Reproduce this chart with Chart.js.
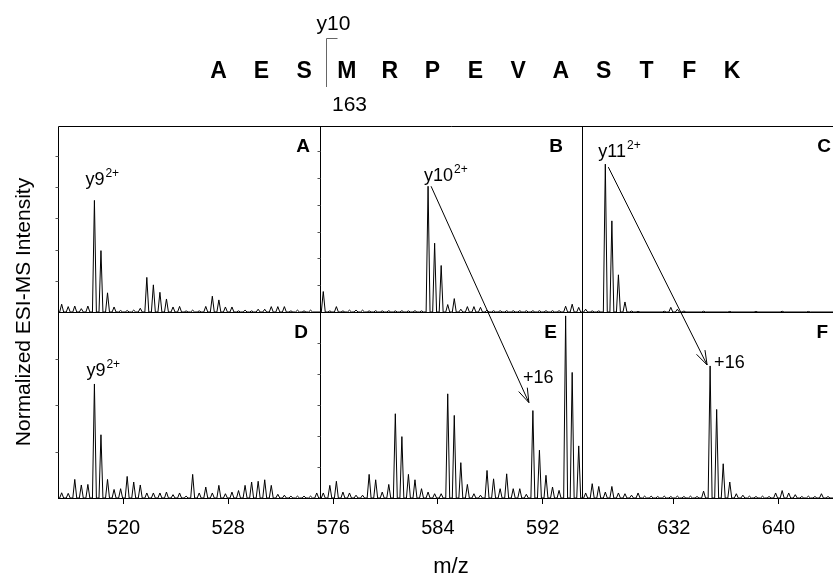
<!DOCTYPE html>
<html>
<head>
<meta charset="utf-8">
<title>ESI-MS spectra</title>
<script src="https://cdn.jsdelivr.net/npm/chart.js@4.4.1/dist/chart.umd.min.js"></script>
<style>
  html, body { margin: 0; padding: 0; background: #fff; overflow: hidden; }
  canvas { display: block; }
</style>
</head>
<body>
<canvas id="msChart" width="845" height="580"></canvas>
<script>
// peptide sequence shown above the panels
const sequence = ["A", "E", "S", "M", "R", "P", "E", "V", "A", "S", "T", "F", "K"];
const cleavageIndex = 3; // cut before M
const cleavageTop = "y10";
const cleavageBottom = "163";

// m/z windows and tick labels of the three columns
const rangeA = [515, 535];
const rangeB = [575, 595];
const rangeC = [625, 645];
const ticksA = [520, 528];
const ticksB = [576, 584, 592];
const ticksC = [632, 640];

// peak lists [m/z, normalized intensity], top row
const peaksA = [
  [515.28, 4.2], [515.78, 2.9], [516.28, 3.2], [516.78, 1.8], [517.28, 3.2], [517.78, 60],
  [518.28, 33], [518.78, 10.3], [519.28, 2.7], [519.78, 0.8], [520.28, 0.8], [520.78, 1],
  [521.28, 2], [521.78, 18.6], [522.28, 14.6], [522.78, 10.6], [523.28, 7], [523.78, 2.7],
  [524.28, 3], [524.78, 0.6], [525.28, 1], [525.78, 0.6], [526.28, 3], [526.78, 8.5],
  [527.28, 6.5], [527.78, 2.7], [528.28, 2.7], [528.78, 0.6], [529.28, 1], [529.78, 0.6],
  [530.28, 1.5], [530.78, 1.5], [531.28, 2.9], [531.78, 2.9], [532.28, 2.9], [532.78, 0.6],
  [533.28, 1], [533.78, 0.6], [534.28, 1]
];
const peaksB = [
  [575.25, 11], [575.75, 0.6], [576.25, 2.9], [576.75, 0.6], [577.25, 1], [577.75, 1],
  [578.25, 1], [578.75, 0.6], [579.25, 0.7], [579.75, 0.6], [580.25, 0.7], [580.75, 0.6],
  [581.25, 0.7], [581.75, 0.6], [582.25, 0.7], [582.75, 0.6], [583.25, 67.6], [583.75, 37],
  [584.25, 25], [584.75, 4], [585.25, 7.2], [585.75, 1.5], [586.25, 2.9], [586.75, 2.9],
  [587.25, 2.5], [587.75, 1], [588.25, 0.7], [588.75, 0.7], [589.25, 0.7], [589.75, 0.7],
  [590.25, 0.7], [590.75, 0.7], [591.25, 0.7], [591.75, 0.7], [592.25, 0.7], [592.75, 0.7],
  [593.25, 0.7], [593.75, 3.1], [594.25, 4.2], [594.75, 2.5]
];
const peaksC = [
  [625.28, 1.5], [625.78, 0.6], [626.28, 0.6], [626.78, 79.5], [627.28, 49], [627.78, 20],
  [628.28, 5.4], [628.78, 0.5], [629.28, 0.3], [631.28, 0.4], [631.78, 2.5], [632.28, 1.5],
  [632.78, 0.5], [634.28, 0.4], [636.28, 0.3], [638.28, 0.3], [640.28, 0.4], [642.28, 0.3]
];

// bottom row
const peaksD = [
  [515.28, 2.8], [515.78, 2.5], [516.28, 10], [516.78, 7], [517.28, 7.3], [517.78, 61.3],
  [518.28, 34], [518.78, 10], [519.28, 4.6], [519.78, 5], [520.28, 11.6], [520.78, 8.6],
  [521.28, 7], [521.78, 2.7], [522.28, 2.7], [522.78, 2.7], [523.28, 3.2], [523.78, 1.8],
  [524.28, 2.7], [524.78, 1], [525.28, 12.7], [525.78, 2.7], [526.28, 5.9], [526.78, 2.7],
  [527.28, 6.8], [527.78, 2.3], [528.28, 3.2], [528.78, 4], [529.28, 6.8], [529.78, 8.6],
  [530.28, 9], [530.78, 9.8], [531.28, 6.8], [531.78, 2], [532.28, 1.5], [532.78, 1],
  [533.28, 1], [533.78, 1], [534.28, 1], [534.75, 2.7]
];
const peaksE = [
  [575.25, 2.7], [575.75, 6.8], [576.25, 9], [576.75, 3.2], [577.25, 2.7], [577.75, 1.5],
  [578.25, 1.5], [578.75, 12.7], [579.25, 9.8], [579.75, 3.2], [580.25, 7.3], [580.75, 45.3],
  [581.25, 33], [581.75, 12.7], [582.25, 9.8], [582.75, 5], [583.25, 3.2], [583.75, 2.3],
  [584.25, 2.3], [584.75, 56], [585.25, 44.4], [585.75, 19], [586.25, 7.3], [586.75, 2.3],
  [587.25, 1.5], [587.75, 14.8], [588.25, 10.3], [588.75, 5], [589.25, 13], [589.75, 5],
  [590.25, 5], [590.75, 2], [591.25, 47], [591.75, 25.7], [592.25, 12.2], [592.75, 5.9],
  [593.25, 4.1], [593.75, 97.9], [594.25, 67.5], [594.75, 28]
];
const peaksF = [
  [625.28, 2.7], [625.78, 7.7], [626.28, 6.2], [626.78, 3.2], [627.28, 6.2], [627.78, 2.7],
  [628.28, 2.3], [628.78, 1.5], [629.28, 2.7], [629.78, 1], [630.28, 1], [630.78, 0.8],
  [631.28, 1], [631.78, 0.8], [632.28, 1], [632.78, 0.8], [633.28, 1], [633.78, 0.8],
  [634.28, 3.7], [634.78, 71], [635.28, 47.6], [635.78, 18.4], [636.28, 8.6], [636.78, 2.3],
  [637.28, 1.5], [637.78, 1], [638.28, 0.8], [638.78, 1], [639.28, 0.8], [639.78, 2.7],
  [640.28, 4], [640.78, 2.7], [641.28, 1.8], [641.78, 0.8], [642.28, 1], [642.78, 0.8],
  [643.28, 2.3], [643.78, 0.8]
];

// ion labels and the +16 shifts (panel, m/z of labelled peak)
const ionLabels = [
  ["A", 517.78, "y9", "2+"],
  ["B", 583.25, "y10", "2+"],
  ["C", 626.78, "y11", "2+"],
  ["D", 517.78, "y9", "2+"],
  ["E", 591.25, "+16", ""],
  ["F", 634.78, "+16", ""]
];
const shifts = [
  ["B", 583.25, "E", 591.25],
  ["C", 626.78, "F", 634.78]
];

// spacing of the small intensity ticks on each panel's own axis
const intensityStep = { A: 16.8, B: 14.4, D: 25, E: 16.7 };

const FONT = "'Liberation Sans', Arial, Helvetica, sans-serif";
const HALF_WIDTH = 0.15; // half base width of a drawn peak, m/z

const panels = {
  A: { x: "xA", y: "yTop", peaks: peaksA, range: rangeA },
  B: { x: "xB", y: "yTop", peaks: peaksB, range: rangeB },
  C: { x: "xC", y: "yTop", peaks: peaksC, range: rangeC },
  D: { x: "xA", y: "yBot", peaks: peaksD, range: rangeA },
  E: { x: "xB", y: "yBot", peaks: peaksE, range: rangeB },
  F: { x: "xC", y: "yBot", peaks: peaksF, range: rangeC }
};

// turn a stick list into a profile of narrow triangles
function profile(peaks, range) {
  const pts = [{ x: range[0], y: 0 }];
  peaks.forEach(([mz, h]) => {
    pts.push({ x: mz - HALF_WIDTH, y: 0 }, { x: mz, y: h }, { x: mz + HALF_WIDTH, y: 0 });
  });
  pts.push({ x: range[1], y: 0 });
  return pts;
}

function peakHeight(panel, mz) {
  const p = panels[panel].peaks.find(pk => Math.abs(pk[0] - mz) < 0.01);
  return p ? p[1] : 0;
}

function peakPixel(chart, panel, mz) {
  const cfg = panels[panel];
  return {
    x: chart.scales[cfg.x].getPixelForValue(mz),
    y: chart.scales[cfg.y].getPixelForValue(peakHeight(panel, mz))
  };
}

function xScale(range, ticks, weight, title) {
  return {
    type: "linear",
    position: "bottom",
    stack: "cols",
    weight: weight,
    min: range[0],
    max: range[1],
    afterBuildTicks: s => { s.ticks = ticks.map(v => ({ value: v })); },
    afterFit: s => {
      s.height = 82;
      // keep the three columns the same width
      s.paddingLeft = 0;
      s.paddingRight = 0;
    },
    grid: { display: true, drawOnChartArea: false, drawTicks: true, tickLength: 6, color: "#000", lineWidth: 1 },
    border: { display: true, color: "#000", width: 1 },
    ticks: { color: "#000", font: { family: FONT, size: 20 }, padding: 12, maxRotation: 0, autoSkip: false },
    title: {
      display: !!title,
      text: title || "",
      color: "#000",
      font: { family: FONT, size: 22 },
      padding: { top: 0, bottom: 0 }
    }
  };
}

function yScale(weight) {
  return {
    type: "linear",
    position: "left",
    stack: "rows",
    weight: weight,
    min: 0,
    max: 100,
    afterFit: s => { s.width = 0; },
    grid: { display: false, drawTicks: false },
    border: { display: false },
    ticks: { display: false }
  };
}

// label offsets from the peak tip, pixels
const labelOffsets = {
  A: [-9, -15], B: [-4, -5], C: [-7, -7], D: [-8, -8], E: [-10, -28], F: [4, 2]
};
const letterInset = { A: 10, B: 19, C: 13, D: 12, E: 25, F: 16 };

function drawArrow(ctx, x1, y1, x2, y2) {
  const ang = Math.atan2(y2 - y1, x2 - x1);
  const len = 15, spread = 0.32;
  ctx.beginPath();
  ctx.moveTo(x1, y1);
  ctx.lineTo(x2, y2);
  ctx.moveTo(x2 - len * Math.cos(ang - spread), y2 - len * Math.sin(ang - spread));
  ctx.lineTo(x2, y2);
  ctx.lineTo(x2 - len * Math.cos(ang + spread), y2 - len * Math.sin(ang + spread));
  ctx.stroke();
}

const annotatePlugin = {
  id: "annotate",
  afterDraw(chart) {
    const ctx = chart.ctx;
    const s = chart.scales;
    const area = chart.chartArea;
    ctx.save();

    // panel frame
    ctx.strokeStyle = "#000";
    ctx.lineWidth = 1;
    const xl = Math.round(area.left) + 0.5;
    const xb = Math.round(s.xB.left) + 0.5;
    const xc = Math.round(s.xC.left) + 0.5;
    const yt = Math.round(area.top) + 0.5;
    const ym = Math.round(s.yTop.bottom) + 0.5;
    ctx.beginPath();
    ctx.moveTo(xl, area.bottom); ctx.lineTo(xl, yt); ctx.lineTo(area.right, yt);
    ctx.moveTo(xl, ym); ctx.lineTo(area.right, ym);
    ctx.moveTo(xb, yt); ctx.lineTo(xb, area.bottom);
    ctx.moveTo(xc, yt); ctx.lineTo(xc, area.bottom);
    ctx.stroke();

    // small intensity ticks on the left edge of each panel
    ctx.strokeStyle = "#555";
    ctx.beginPath();
    Object.keys(intensityStep).forEach(k => {
      const cfg = panels[k];
      const xs = Math.round(s[cfg.x].left) + 0.5;
      for (let v = intensityStep[k]; v < 100; v += intensityStep[k]) {
        const yy = Math.round(s[cfg.y].getPixelForValue(v)) + 0.5;
        ctx.moveTo(xs - 3, yy);
        ctx.lineTo(xs, yy);
      }
    });
    ctx.stroke();

    // panel letters
    ctx.fillStyle = "#000";
    ctx.font = "bold 19px " + FONT;
    ctx.textAlign = "right";
    ctx.textBaseline = "alphabetic";
    Object.keys(panels).forEach(k => {
      const cfg = panels[k];
      ctx.fillText(k, s[cfg.x].right - letterInset[k], s[cfg.y].top + 26);
    });

    // ion labels
    ctx.textAlign = "left";
    ionLabels.forEach(([panel, mz, text, sup]) => {
      const p = peakPixel(chart, panel, mz);
      const off = labelOffsets[panel];
      const x = p.x + off[0], y = p.y + off[1];
      ctx.font = "18px " + FONT;
      ctx.fillText(text, x, y);
      if (sup) {
        const w = ctx.measureText(text).width;
        ctx.font = "12px " + FONT;
        ctx.fillText(sup, x + w + 1, y - 8);
      }
    });

    // arrows for the +16 shift
    ctx.strokeStyle = "#000";
    ctx.lineWidth = 1;
    shifts.forEach(([p1, mz1, p2, mz2], i) => {
      const a = peakPixel(chart, p1, mz1);
      const b = peakPixel(chart, p2, mz2);
      const start = i === 0 ? [3, 0] : [3, 3];
      const end = i === 0 ? [-4, -8] : [-3, -1];
      drawArrow(ctx, a.x + start[0], a.y + start[1], b.x + end[0], b.y + end[1]);
    });

    // y axis title
    ctx.save();
    ctx.translate(24, (area.top + area.bottom) / 2);
    ctx.rotate(-Math.PI / 2);
    ctx.font = "21px " + FONT;
    ctx.textAlign = "center";
    ctx.textBaseline = "middle";
    ctx.fillText("Normalized ESI-MS Intensity", 0, 0);
    ctx.restore();

    // sequence header
    const x0 = 218.5, step = 42.8;
    ctx.font = "bold 23px " + FONT;
    ctx.textAlign = "center";
    ctx.textBaseline = "alphabetic";
    sequence.forEach((aa, i) => ctx.fillText(aa, x0 + i * step, 78));
    const cx = Math.round(x0 + (cleavageIndex - 0.5) * step) + 0.5;
    ctx.strokeStyle = "#666";
    ctx.beginPath();
    ctx.moveTo(cx, 87); ctx.lineTo(cx, 38.5); ctx.lineTo(cx + 11, 38.5);
    ctx.stroke();
    ctx.font = "21px " + FONT;
    ctx.fillText(cleavageTop, cx + 7, 30);
    ctx.fillText(cleavageBottom, cx + 23, 111);

    ctx.restore();
  }
};

const ctx = document.getElementById("msChart").getContext("2d");
new Chart(ctx, {
  type: "line",
  data: {
    datasets: Object.keys(panels).map(k => ({
      label: k,
      data: profile(panels[k].peaks, panels[k].range),
      xAxisID: panels[k].x,
      yAxisID: panels[k].y,
      borderColor: "#000",
      borderWidth: 1,
      pointRadius: 0,
      tension: 0,
      fill: false
    }))
  },
  options: {
    responsive: false,
    animation: false,
    layout: { padding: { left: 58, top: 126, right: 1, bottom: 0 } },
    plugins: { legend: { display: false }, tooltip: { enabled: false } },
    scales: {
      xA: xScale(rangeA, ticksA, 0),
      xB: xScale(rangeB, ticksB, 1, "m/z"),
      xC: xScale(rangeC, ticksC, 2),
      yTop: yScale(1),
      yBot: yScale(0)
    }
  },
  plugins: [annotatePlugin]
});
</script>
</body>
</html>
